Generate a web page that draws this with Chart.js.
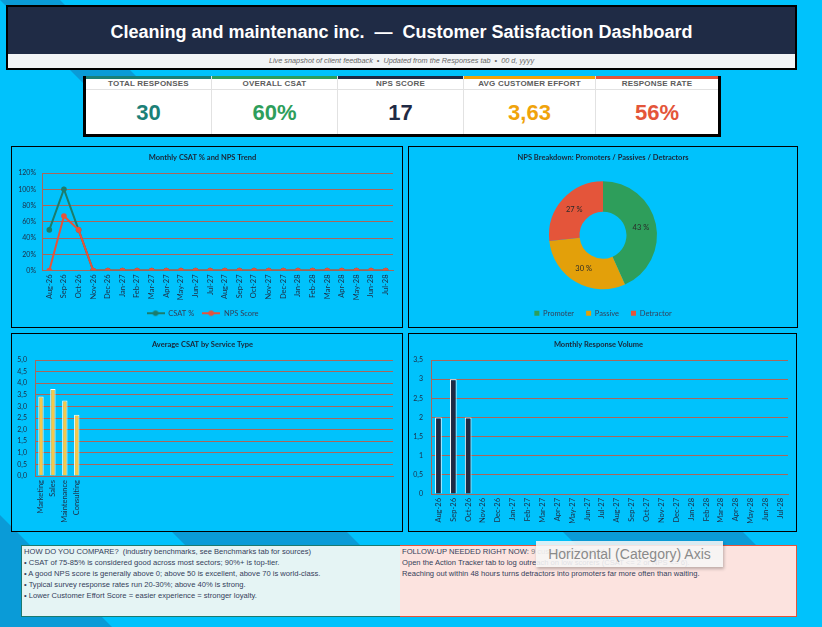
<!DOCTYPE html>
<html>
<head>
<meta charset="utf-8">
<script src="https://cdn.jsdelivr.net/npm/chart.js@4.4.1/dist/chart.umd.min.js"></script>
<style>
  html, body { margin: 0; padding: 0; }
  body {
    width: 822px; height: 627px; position: relative; overflow: hidden;
    background: #00c2fc; font-family: "Liberation Sans", Arial, sans-serif;
  }
  .bg { position: absolute; left: 0; top: 0; }
  .header {
    position: absolute; left: 6px; top: 5px; width: 787px; height: 61px;
    border: 2px solid #000; background: #f2f4f6;
  }
  .header .top {
    height: 47px; background: #1f2b45; color: #fff; text-align: center;
    font-weight: bold; font-size: 18px; line-height: 50px;
  }
  .header .sub {
    height: 14px; line-height: 14px; text-align: center; color: #666;
    font-style: italic; font-size: 7.3px;
    font-family: "Liberation Sans Narrow", "Liberation Sans", Arial, sans-serif;
  }
  .kpis {
    position: absolute; left: 83px; top: 76px; width: 632px; height: 58px;
    border: 3px solid #000; border-top: 0; background: #fff; display: flex;
  }
  .kpi { border-left: 1px solid #e2e2e2; box-sizing: border-box; }
  .kpi:first-child { border-left: 0; }
  .kpi .strip { height: 3px; }
  .kpi .lbl {
    height: 10px; line-height: 10px; border-bottom: 1px solid #e2e2e2; text-align: center;
    font-size: 8px; font-weight: bold; color: #5c5c5c; letter-spacing: 0.2px;
  }
  .kpi .val { text-align: center; font-size: 22px; font-weight: bold; line-height: 46px; }
  .panel { position: absolute; border: 1px solid #000; background: #00c2fc; }
  .panel canvas { display: block; }
  .note {
    position: absolute; top: 545px; height: 72px; box-sizing: border-box;
    font-size: 7.6px; line-height: 11px; color: #34405a; padding: 0 0 0 2px;
  }
  .note.left { left: 21px; width: 380px; background: #e5f4f4; border: 1px solid #1b7a70; }
  .note.right { left: 400px; width: 397px; background: #fce3df; border: 1px solid #e4553a; border-left: 0; }
  .tip {
    position: absolute; left: 536px; top: 541px; width: 187px; height: 26px;
    background: rgba(246,246,246,0.88); box-shadow: 1px 2px 3px rgba(0,0,0,0.25);
    color: #8a8a8a; font-size: 14px; line-height: 26px; text-align: center;
  }
</style>
</head>
<body>
<svg class="bg" width="822" height="627">
  <polygon points="0,0 60,0 180,120 120,120" fill="#0a9bd7"/>
  <polygon points="0,515 0,627 112,627" fill="#0a9bd7"/>
  <polygon points="40,400 215,400 361,546 186,546" fill="#0a9bd7"/>
  <polygon points="431,400 611,400 757,546 577,546" fill="#0a9bd7"/>
</svg>

<div class="header">
  <div class="top">Cleaning and maintenanc inc.&nbsp; —&nbsp; Customer Satisfaction Dashboard</div>
  <div class="sub">Live snapshot of client feedback &nbsp;•&nbsp; Updated from the Responses tab &nbsp;•&nbsp; 00 d, yyyy</div>
</div>

<div class="kpis" id="kpis"></div>

<div class="panel" style="left:11px;top:146px;"><canvas id="trend" width="390" height="180"></canvas></div>
<div class="panel" style="left:408px;top:146px;"><canvas id="nps" width="388" height="180"></canvas></div>
<div class="panel" style="left:11px;top:333px;"><canvas id="service" width="390" height="197"></canvas></div>
<div class="panel" style="left:408px;top:333px;"><canvas id="volume" width="387" height="197"></canvas></div>

<div class="note left">
  HOW DO YOU COMPARE?&nbsp; (industry benchmarks, see Benchmarks tab for sources)<br>
  • CSAT of 75-85% is considered good across most sectors; 90%+ is top-tier.<br>
  • A good NPS score is generally above 0; above 50 is excellent, above 70 is world-class.<br>
  • Typical survey response rates run 20-30%; above 40% is strong.<br>
  • Lower Customer Effort Score = easier experience = stronger loyalty.
</div>
<div class="note right">
  FOLLOW-UP NEEDED RIGHT NOW: <span style="color:#777">9 customer(s) flagged</span><br>
  Open the Action Tracker tab to log outreach on low scorers (CSAT &lt;= 2 or NPS &lt;= 6).<br>
  Reaching out within 48 hours turns detractors into promoters far more often than waiting.
</div>
<div class="tip">Horizontal (Category) Axis</div>

<script>
// ---- data ----
const kpiLabels = ['TOTAL RESPONSES', 'OVERALL CSAT', 'NPS SCORE', 'AVG CUSTOMER EFFORT', 'RESPONSE RATE'];
const kpiValues = ['30', '60%', '17', '3,63', '56%'];
const kpiColors = ['#1b8077', '#2e9e5b', '#1f2a44', '#f0a30a', '#e4553a'];
const kpiWidths = [125, 126, 126, 132, 123];

const months = ['Aug-26', 'Sep-26', 'Oct-26', 'Nov-26', 'Dec-26', 'Jan-27', 'Feb-27', 'Mar-27',
  'Apr-27', 'May-27', 'Jun-27', 'Jul-27', 'Aug-27', 'Sep-27', 'Oct-27', 'Nov-27', 'Dec-27',
  'Jan-28', 'Feb-28', 'Mar-28', 'Apr-28', 'May-28', 'Jun-28', 'Jul-28'];
const csatPct = [50, 100, 50, 0, 0, 0, 0, 0, 0, 0, 0, 0, 0, 0, 0, 0, 0, 0, 0, 0, 0, 0, 0, 0];
const npsScore = [0, 67, 50, 0, 0, 0, 0, 0, 0, 0, 0, 0, 0, 0, 0, 0, 0, 0, 0, 0, 0, 0, 0, 0];

const npsLabels = ['Promoter', 'Passive', 'Detractor'];
const npsCounts = [13, 9, 8];
const npsColors = ['#2e9e5b', '#e3a00a', '#e4553a'];

const serviceTypes = ['Marketing', 'Sales', 'Maintenance', 'Consulting'];
const serviceCsat = [3.43, 3.75, 3.25, 2.64];
const serviceSlots = 30; // the sheet axis keeps room for 30 categories

const responseVolume = [2, 3, 2, 0, 0, 0, 0, 0, 0, 0, 0, 0, 0, 0, 0, 0, 0, 0, 0, 0, 0, 0, 0, 0];

// ---- kpi cards ----
const kpiBox = document.getElementById('kpis');
kpiLabels.forEach((lbl, i) => {
  const d = document.createElement('div');
  d.className = 'kpi';
  d.style.width = kpiWidths[i] + 'px';
  d.innerHTML = `<div class="strip" style="background:${kpiColors[i]}"></div>
    <div class="lbl">${lbl}</div>
    <div class="val" style="color:${kpiColors[i]}">${kpiValues[i]}</div>`;
  kpiBox.appendChild(d);
});

// ---- charts ----
const GRID = '#a8675c';
const TICK = '#1e2c44';
const FONT = 'Lato, "Open Sans", sans-serif';
Chart.defaults.font.family = FONT;
Chart.defaults.color = TICK;
Chart.defaults.animation = false;

const titleOpts = (text) => ({
  display: true, text, color: '#1b2536',
  font: { size: 7.5, weight: 'bold' }, padding: { top: 6, bottom: 11 }
});

function lineSwatch(color) {
  const c = document.createElement('canvas');
  c.width = 18; c.height = 8;
  const g = c.getContext('2d');
  g.strokeStyle = color; g.lineWidth = 2;
  g.beginPath(); g.moveTo(0, 4); g.lineTo(18, 4); g.stroke();
  g.fillStyle = color;
  g.beginPath(); g.arc(9, 4, 2.8, 0, Math.PI * 2); g.fill();
  return c;
}

new Chart(document.getElementById('trend'), {
  type: 'line',
  data: {
    labels: months,
    datasets: [
      // NPS is drawn over CSAT like in the sheet
      { label: 'CSAT %', data: csatPct, borderColor: '#1c7c6c', backgroundColor: '#1c7c6c', order: 1,
        borderWidth: 2, pointRadius: 2.8, pointBorderWidth: 0, tension: 0 },
      { label: 'NPS Score', data: npsScore, borderColor: '#e5533b', backgroundColor: '#e5533b', order: 0,
        borderWidth: 2, pointRadius: 2.8, pointBorderWidth: 0, tension: 0 }
    ]
  },
  options: {
    responsive: false,
    layout: { padding: { left: 0, right: 9, bottom: 0 } },
    plugins: {
      title: titleOpts('Monthly CSAT % and NPS Trend'),
      tooltip: { enabled: false },
      legend: {
        position: 'bottom',
        labels: {
          usePointStyle: true, pointStyleWidth: 18, padding: 8, font: { size: 7.5 }, color: '#33405a',
          sort: (a, b) => a.datasetIndex - b.datasetIndex,
          generateLabels: (chart) => Chart.defaults.plugins.legend.labels.generateLabels(chart)
            .map(it => Object.assign(it, { pointStyle: lineSwatch(chart.data.datasets[it.datasetIndex].borderColor) }))
        }
      }
    },
    scales: {
      x: {
        offset: true,
        grid: { display: false, drawTicks: false },
        border: { color: GRID },
        ticks: { autoSkip: false, minRotation: 90, maxRotation: 90, padding: 4, font: { size: 7.5 } },
        afterFit: s => { s.height = 31; }
      },
      y: {
        min: 0, max: 120,
        grid: { color: GRID, drawTicks: false },
        border: { color: GRID },
        ticks: { stepSize: 20, padding: 6, font: { size: 7 }, callback: v => v + '%' },
        afterFit: s => { s.width = 30; }
      }
    }
  }
});

const arcLabels = {
  id: 'arcLabels',
  afterDatasetsDraw(chart) {
    const ctx = chart.ctx;
    const ds = chart.data.datasets[0].data;
    const total = ds.reduce((a, b) => a + b, 0);
    ctx.save();
    ctx.font = '7.5px ' + FONT;
    ctx.fillStyle = '#2a2a2a';
    ctx.textAlign = 'center';
    ctx.textBaseline = 'middle';
    chart.getDatasetMeta(0).data.forEach((arc, i) => {
      const p = arc.tooltipPosition();
      ctx.fillText(Math.round(ds[i] / total * 100) + ' %', p.x, p.y);
    });
    ctx.restore();
  }
};

new Chart(document.getElementById('nps'), {
  type: 'doughnut',
  data: {
    labels: npsLabels,
    datasets: [{ data: npsCounts, backgroundColor: npsColors, borderWidth: 0 }]
  },
  options: {
    responsive: false,
    radius: 54,
    cutout: 27,
    layout: { padding: { bottom: 0 } },
    plugins: {
      title: titleOpts('NPS Breakdown: Promoters / Passives / Detractors'),
      tooltip: { enabled: false },
      legend: {
        position: 'bottom',
        labels: { boxWidth: 5, boxHeight: 5, padding: 12, font: { size: 7.5 }, color: '#33405a' }
      }
    }
  },
  plugins: [arcLabels]
});

const serviceLabels = serviceTypes.concat(new Array(serviceSlots - serviceTypes.length).fill(''));

new Chart(document.getElementById('service'), {
  type: 'bar',
  data: {
    labels: serviceLabels,
    datasets: [{
      data: serviceCsat, backgroundColor: '#f5c84c', borderColor: '#ffffff', borderWidth: 1,
      categoryPercentage: 1, barPercentage: 0.45
    }]
  },
  options: {
    responsive: false,
    layout: { padding: { left: 0, right: 9 } },
    plugins: {
      title: titleOpts('Average CSAT by Service Type'),
      legend: { display: false }, tooltip: { enabled: false }
    },
    scales: {
      x: {
        grid: { display: false, drawTicks: false },
        border: { color: GRID },
        ticks: { autoSkip: false, minRotation: 90, maxRotation: 90, padding: 4, font: { size: 7.5 } },
        afterFit: s => { s.height = 55; }
      },
      y: {
        min: 0, max: 5,
        grid: { color: GRID, drawTicks: false },
        border: { color: GRID },
        ticks: { stepSize: 0.5, padding: 8, font: { size: 7 }, callback: v => v.toFixed(1).replace('.', ',') },
        afterFit: s => { s.width = 23; }
      }
    }
  }
});

new Chart(document.getElementById('volume'), {
  type: 'bar',
  data: {
    labels: months,
    datasets: [{
      data: responseVolume, backgroundColor: '#1f2a44', borderColor: '#ffffff',
      borderWidth: c => (c.raw ? 1 : 0),
      categoryPercentage: 1, barPercentage: 0.45
    }]
  },
  options: {
    responsive: false,
    layout: { padding: { left: 0, right: 8 } },
    plugins: {
      title: titleOpts('Monthly Response Volume'),
      legend: { display: false }, tooltip: { enabled: false }
    },
    scales: {
      x: {
        grid: { display: false, drawTicks: false },
        border: { color: GRID },
        ticks: { autoSkip: false, minRotation: 90, maxRotation: 90, padding: 4, font: { size: 7.5 } },
        afterFit: s => { s.height = 37; }
      },
      y: {
        min: 0, max: 3.5,
        grid: { color: GRID, drawTicks: false },
        border: { color: GRID },
        ticks: { stepSize: 0.5, padding: 8, font: { size: 7 }, callback: v => String(v).replace('.', ',') },
        afterFit: s => { s.width = 22; }
      }
    }
  }
});
</script>
</body>
</html>
